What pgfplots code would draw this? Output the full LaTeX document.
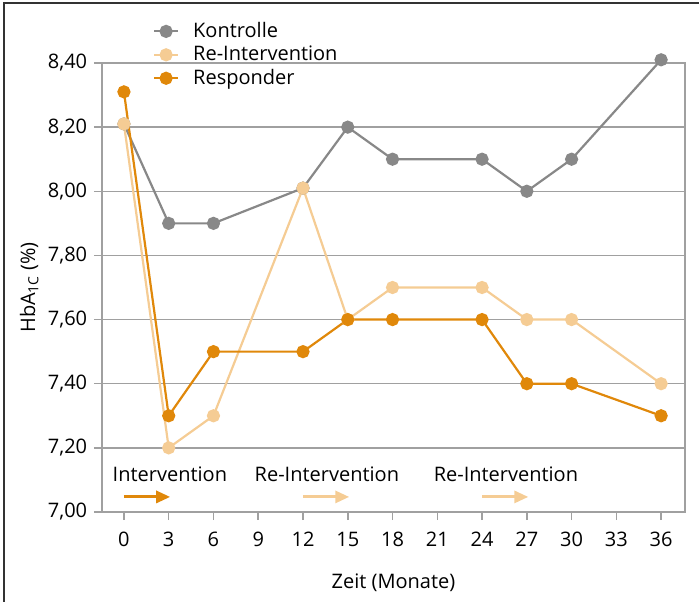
\documentclass[border=0pt]{standalone}
\usepackage{pgfplots}
\pgfplotsset{compat=1.18}
\usepackage{fontspec}
\setmainfont{Open Sans}
\usetikzlibrary{arrows.meta}
\definecolor{kgray}{HTML}{888888}
\definecolor{rpeach}{HTML}{F5CC94}
\definecolor{rorange}{HTML}{E0880A}
\definecolor{gridc}{HTML}{A0A0A0}
\begin{document}
\fontsize{20}{23}\selectfont
\begin{tikzpicture}
\begin{axis}[
  scale only axis, width=583pt, height=449pt,
  xmin=-1.47, xmax=37.6, ymin=7, ymax=8.4,
  clip=false,
  xtick={0,3,...,36},
  ytick={7,7.2,7.4,7.6,7.8,8.0,8.2,8.4},
  yticklabel style={/pgf/number format/.cd, fixed, fixed zerofill, precision=2, use comma, assume math mode=true},
  xticklabel style={/pgf/number format/assume math mode=true, yshift=-5pt},
  ymajorgrids, grid style={gridc, line width=1.5pt},
  axis line style={gridc, line width=1.5pt},
  tick style={gridc, line width=1.5pt}, major tick length=8pt, tick align=outside,
  xtick pos=bottom, ytick pos=left,
  xlabel={Zeit (Monate)}, ylabel={HbA\textsubscript{1C} (\%)},
  xlabel style={yshift=-14pt},
  ylabel style={yshift=-4pt},
  legend style={at={(0.082,1.10)}, anchor=north west, draw=none, fill=none, row sep=1.5pt, column sep=12pt, nodes={anchor=west}},
  legend cell align=left,
  legend image code/.code={\draw[mark repeat=2,mark phase=2,#1] plot coordinates {(0pt,0pt) (12pt,0pt) (24pt,0pt)};},
  every axis plot/.append style={line width=2.2pt, mark=*, mark size=5.5pt},
]
\addplot[kgray, mark options={fill=kgray, draw=kgray}] coordinates {(0,8.21) (3,7.90) (6,7.90) (12,8.01) (15,8.20) (18,8.10) (24,8.10) (27,8.00) (30,8.10) (36,8.41)};
\addlegendentry{Kontrolle}
\addplot[rpeach, mark options={fill=rpeach, draw=rpeach}] coordinates {(0,8.21) (3,7.20) (6,7.30) (12,8.01) (15,7.60) (18,7.70) (24,7.70) (27,7.60) (30,7.60) (36,7.40)};
\addlegendentry{Re-Intervention}
\addplot[rorange, mark options={fill=rorange, draw=rorange}] coordinates {(0,8.31) (3,7.30) (6,7.50) (12,7.50) (15,7.60) (18,7.60) (24,7.60) (27,7.40) (30,7.40) (36,7.30)};
\addlegendentry{Responder}
\node at (axis cs:3.08,7.118) {Intervention};
\node at (axis cs:13.6,7.118) {Re-Intervention};
\node at (axis cs:25.6,7.118) {Re-Intervention};
\draw[rorange, line width=3pt, -{Triangle[length=14pt,width=12pt]}] (axis cs:0,7.047) -- (axis cs:3.1,7.047);
\draw[rpeach, line width=3pt, -{Triangle[length=14pt,width=12pt]}] (axis cs:12,7.047) -- (axis cs:15.1,7.047);
\draw[rpeach, line width=3pt, -{Triangle[length=14pt,width=12pt]}] (axis cs:24,7.047) -- (axis cs:27.1,7.047);
\end{axis}
\draw[line width=2pt, black!80] (-98pt,-95pt) -- (-98pt,509pt) -- (600pt,509pt);
\pgfresetboundingbox
\path (-102pt,-90pt) rectangle (597pt,512pt);
\end{tikzpicture}
\end{document}
